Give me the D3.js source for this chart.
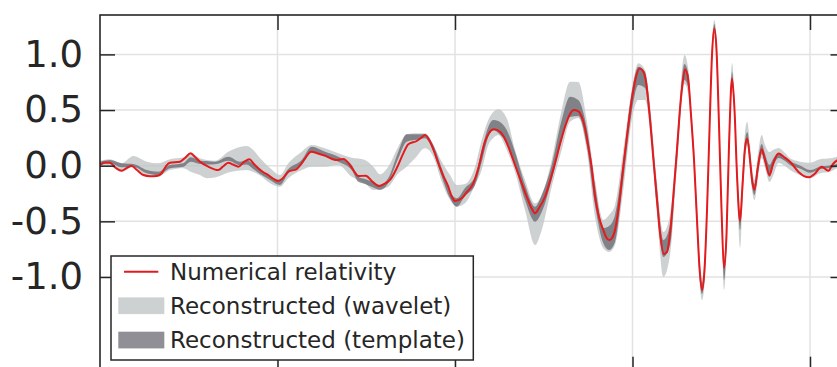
<!DOCTYPE html>
<html>
<head>
<meta charset="utf-8">
<script src="https://cdn.jsdelivr.net/npm/d3@7"></script>
<style>
  body { margin: 0; background: #fff; }
  svg { display: block; }
</style>
</head>
<body>
<svg id="chart" width="837" height="367"></svg>
<script>
// Axis ticks (time in ms, strain normalised to the peak)
const xTickValues = [0, 50, 100, 150, 200];
const yTickValues = [-1.0, -0.5, 0.0, 0.5, 1.0];
const yTickLabels = ["-1.0", "-0.5", "0.0", "0.5", "1.0"];
const legendLabels = ["Numerical relativity", "Reconstructed (wavelet)", "Reconstructed (template)"];

// Numerical relativity waveform
const nrTime = [0, 1.41, 2.82, 4.51, 6.11, 7.47, 8.93, 10.42, 12.20, 14.09, 15.97, 17.38, 18.59, 19.72, 22.54, 23.94, 25.55, 26.76, 28.17, 30.51, 33.32, 34.65, 36.14, 37.47, 38.96, 40.56, 42.06, 43.38, 44.59, 45.92, 47.41, 48.73, 50.14, 51.27, 53.04, 55.41, 56.82, 58.03, 59.44, 61.41, 63.38, 66.68, 68.54, 70.43, 71.55, 72.76, 74.85, 76.54, 78.59, 80.28, 81.69, 83.58, 85.44, 86.85, 89.21, 90.43, 91.55, 92.96, 94.09, 95.30, 96.62, 98.12, 99.02, 100.0, 101.89, 103.38, 105.16, 106.57, 108.45, 109.58, 110.99, 112.68, 113.81, 115.02, 116.91, 118.79, 120.57, 121.69, 122.54, 123.67, 125.36, 126.77, 128.17, 129.58, 130.99, 132.40, 133.52, 134.65, 135.69, 136.62, 137.55, 138.45, 139.44, 140.56, 141.78, 142.54, 143.39, 144.23, 145.08, 146.20, 147.41, 148.59, 149.78, 150.85, 151.97, 152.96, 153.81, 154.94, 155.78, 156.82, 157.75, 158.88, 159.73, 160.57, 161.41, 162.46, 163.24, 163.95, 164.79, 165.64, 166.48, 167.33, 168.17, 168.88, 169.58, 170.28, 170.99, 171.69, 172.40, 173.05, 173.67, 174.37, 175.08, 175.78, 176.48, 177.19, 178.03, 178.74, 179.44, 180.29, 180.99, 181.70, 182.34, 183.11, 183.67, 184.37, 185.21, 186.40, 187.33, 188.59, 189.58, 191.13, 192.68, 194.37, 196.70, 198.31, 199.72, 201.41, 203.30, 205.16, 206.48, 207.61, 209.87];
const nrStrain = [0.006, 0.029, 0.027, -0.021, -0.045, -0.021, -0.003, -0.039, -0.084, -0.095, -0.093, -0.068, -0.003, 0.027, 0.036, 0.069, 0.111, 0.078, 0.036, -0.009, -0.039, -0.007, 0.027, 0.011, -0.009, 0.033, 0.058, 0.015, -0.023, -0.057, -0.084, -0.115, -0.137, -0.120, -0.054, -0.030, 0.022, 0.078, 0.126, 0.110, 0.090, 0.051, 0.060, 0.006, -0.048, -0.093, -0.090, -0.137, -0.182, -0.160, -0.128, -0.023, 0.111, 0.192, 0.222, 0.249, 0.276, 0.216, 0.132, 0.022, -0.084, -0.189, -0.272, -0.317, -0.293, -0.236, -0.158, -0.023, 0.216, 0.294, 0.327, 0.305, 0.258, 0.171, 0.006, -0.158, -0.308, -0.389, -0.428, -0.380, -0.279, -0.137, 0.022, 0.195, 0.350, 0.465, 0.500, 0.491, 0.440, 0.339, 0.171, -0.003, -0.279, -0.461, -0.578, -0.641, -0.668, -0.650, -0.578, -0.353, -0.009, 0.303, 0.590, 0.779, 0.873, 0.851, 0.752, 0.411, 0.096, -0.279, -0.605, -0.793, -0.775, -0.607, -0.308, 0.111, 0.456, 0.698, 0.864, 0.788, 0.456, 0.051, -0.488, -0.919, -1.117, -0.937, -0.398, 0.321, 0.995, 1.233, 1.040, 0.366, -0.398, -0.919, -0.623, 0.186, 0.783, 0.500, -0.084, -0.497, -0.173, 0.159, 0.244, 0.051, -0.128, -0.218, -0.039, 0.147, 0.051, -0.084, 0.015, 0.110, 0.078, 0.036, -0.054, -0.093, -0.104, -0.070, -0.009, -0.045, 0.015, 0.047, 0.069];

// 90% credible bands of the two reconstructions
const bandTime = [0, 2.82, 6.11, 9.38, 13.16, 16.42, 19.72, 23.47, 25.55, 28.17, 30.05, 32.39, 36.14, 39.44, 41.33, 43.18, 45.07, 47.89, 50.71, 53.04, 56.82, 59.64, 63.38, 67.13, 70.90, 72.76, 74.65, 76.99, 78.87, 81.21, 84.03, 86.39, 88.74, 91.55, 93.89, 96.26, 98.60, 100.48, 102.82, 105.64, 107.52, 109.38, 110.79, 112.20, 114.57, 116.91, 119.72, 122.54, 124.43, 127.24, 130.06, 132.40, 134.74, 137.10, 139.44, 141.78, 143.39, 145.08, 147.41, 149.78, 151.64, 153.53, 154.94, 156.82, 158.68, 160.57, 162.46, 164.64, 165.76, 166.48, 167.33, 168.17, 168.88, 169.58, 170.28, 170.99, 171.69, 172.40, 173.05, 173.67, 174.37, 175.08, 175.78, 176.48, 177.19, 178.03, 178.74, 179.44, 180.29, 180.99, 181.70, 182.34, 183.11, 183.67, 184.37, 185.21, 186.40, 187.33, 188.59, 189.58, 191.13, 192.96, 194.37, 197.18, 200.0, 202.82, 205.64, 207.61, 209.87];
const waveletUpper = [0.045, 0.058, 0.022, 0.087, 0.036, 0.022, 0.058, 0.075, 0.117, 0.066, 0.051, 0.045, 0.126, 0.168, 0.177, 0.141, 0.069, -0.021, -0.084, 0.022, 0.126, 0.186, 0.156, 0.111, 0.072, 0.065, 0.051, -0.009, -0.077, -0.009, 0.171, 0.282, 0.291, 0.291, 0.186, 0.036, -0.084, -0.173, -0.164, -0.009, 0.231, 0.411, 0.482, 0.507, 0.426, 0.141, -0.128, -0.338, -0.263, 0.051, 0.500, 0.755, 0.752, 0.411, -0.128, -0.488, -0.443, -0.353, 0.141, 0.680, 0.920, 0.860, 0.545, -0.128, -0.596, -0.443, 0.231, 0.995, 0.860, 0.545, 0.159, -0.353, -0.802, -1.009, -0.829, -0.263, 0.456, 1.111, 1.309, 1.147, 0.500, -0.263, -0.811, -0.488, 0.321, 0.923, 0.617, 0.033, -0.398, -0.057, 0.303, 0.395, 0.186, -0.012, -0.128, 0.078, 0.276, 0.186, 0.123, 0.141, 0.159, 0.114, 0.066, 0.036, 0.027, 0.058, 0.066, 0.081, 0.096];
const waveletLower = [-0.009, -0.009, -0.054, -0.009, -0.093, -0.099, -0.039, -0.023, -0.054, -0.084, -0.113, -0.106, -0.061, -0.043, -0.039, -0.057, -0.088, -0.158, -0.189, -0.113, -0.039, -0.009, -0.009, 0.006, -0.099, -0.128, -0.158, -0.218, -0.209, -0.189, -0.068, -0.009, 0.066, 0.156, 0.081, -0.144, -0.308, -0.368, -0.338, -0.173, -0.039, 0.186, 0.249, 0.276, 0.141, -0.057, -0.398, -0.713, -0.578, -0.189, 0.141, 0.395, 0.429, 0.141, -0.458, -0.742, -0.775, -0.713, -0.218, 0.411, 0.590, 0.590, 0.321, -0.398, -1.000, -0.803, -0.039, 0.734, 0.635, 0.366, -0.057, -0.623, -1.045, -1.207, -1.063, -0.533, 0.186, 0.878, 1.147, 0.914, 0.231, -0.533, -1.117, -0.775, 0.051, 0.680, 0.384, -0.218, -0.739, -0.326, 0.051, 0.177, -0.039, -0.218, -0.308, -0.146, 0.069, -0.021, -0.146, -0.093, 0.024, -0.003, -0.039, -0.084, -0.113, -0.068, -0.054, -0.023, -0.012];
const templateUpper = [0.036, 0.051, 0.022, 0.015, -0.039, -0.054, 0.006, 0.022, 0.075, 0.045, 0.042, 0.036, 0.081, 0.036, 0.051, 0.015, -0.039, -0.099, -0.128, -0.030, 0.051, 0.171, 0.126, 0.081, 0.006, -0.099, -0.120, -0.149, -0.173, -0.111, 0.126, 0.282, 0.282, 0.282, 0.186, -0.023, -0.234, -0.293, -0.200, -0.099, 0.141, 0.348, 0.411, 0.402, 0.321, 0.123, -0.173, -0.368, -0.263, 0.006, 0.411, 0.620, 0.590, 0.339, -0.173, -0.560, -0.542, -0.443, 0.051, 0.662, 0.890, 0.842, 0.500, -0.173, -0.668, -0.533, 0.186, 0.914, 0.824, 0.500, 0.105, -0.416, -0.865, -1.054, -0.883, -0.326, 0.393, 1.058, 1.273, 1.093, 0.429, -0.326, -0.865, -0.560, 0.249, 0.842, 0.554, -0.021, -0.443, -0.111, 0.231, 0.303, 0.123, -0.066, -0.164, 0.024, 0.195, 0.105, 0.006, 0.060, 0.114, 0.078, 0.042, 0.002, -0.039, -0.009, 0.002, 0.015, 0.024];
const templateLower = [0.006, 0.022, -0.014, -0.012, -0.068, -0.084, -0.023, -0.009, 0.036, 0.015, 0.011, 0.013, 0.045, 0.006, 0.011, -0.030, -0.075, -0.128, -0.173, -0.068, 0.006, 0.120, 0.081, 0.036, -0.039, -0.144, -0.164, -0.196, -0.218, -0.155, 0.066, 0.216, 0.231, 0.246, 0.126, -0.099, -0.293, -0.368, -0.272, -0.173, 0.033, 0.258, 0.321, 0.294, 0.195, -0.003, -0.308, -0.503, -0.416, -0.128, 0.231, 0.438, 0.447, 0.186, -0.353, -0.697, -0.757, -0.686, -0.128, 0.482, 0.725, 0.698, 0.366, -0.353, -0.820, -0.713, 0.033, 0.770, 0.698, 0.411, -0.003, -0.560, -0.991, -1.153, -1.009, -0.470, 0.249, 0.932, 1.192, 0.968, 0.303, -0.470, -1.027, -0.704, 0.123, 0.734, 0.447, -0.146, -0.578, -0.254, 0.105, 0.204, 0.006, -0.182, -0.263, -0.093, 0.105, 0.015, -0.102, -0.012, 0.069, 0.042, 0.006, -0.025, -0.063, -0.032, -0.021, -0.012, -0.003];

const COLORS = {
  nr: "#e41a1c",
  wavelet: "rgba(192,198,198,0.8)",
  template: "rgba(100,100,108,0.72)",
  grid: "#e2e2e2",
  axis: "#262626"
};

const plot = { left: 100, right: 845.5, top: 15, bottom: 371.7 };
const svg = d3.select("#chart");

const x = d3.scaleLinear().domain([0, 210]).range([plot.left, plot.right]);
const y = d3.scaleLinear().domain([-1.851, 1.354]).range([plot.bottom, plot.top]);

svg.append("defs").append("clipPath").attr("id", "plot-clip")
  .append("rect")
  .attr("x", plot.left).attr("y", plot.top)
  .attr("width", plot.right - plot.left).attr("height", plot.bottom - plot.top);

// Grid
const grid = svg.append("g");
grid.selectAll("line.h").data(yTickValues).join("line")
  .attr("x1", plot.left).attr("x2", plot.right)
  .attr("y1", d => y(d)).attr("y2", d => y(d))
  .attr("stroke", COLORS.grid).attr("stroke-width", 1.5);
grid.selectAll("line.v").data(xTickValues.slice(1)).join("line")
  .attr("x1", d => x(d)).attr("x2", d => x(d))
  .attr("y1", plot.top).attr("y2", plot.bottom)
  .attr("stroke", COLORS.grid).attr("stroke-width", 1.5);

// Data
const data = svg.append("g").attr("clip-path", "url(#plot-clip)");
const band = (lo, hi) => d3.area()
  .x((d, i) => x(bandTime[i]))
  .y0((d, i) => y(lo[i]))
  .y1((d, i) => y(hi[i]))
  .curve(d3.curveMonotoneX);

data.append("path").datum(bandTime)
  .attr("d", band(waveletLower, waveletUpper))
  .attr("fill", COLORS.wavelet);
data.append("path").datum(bandTime)
  .attr("d", band(templateLower, templateUpper))
  .attr("fill", COLORS.template);

const nrLine = d3.line()
  .x(d => x(d[0])).y(d => y(d[1]))
  .curve(d3.curveMonotoneX);
data.append("path").datum(d3.zip(nrTime, nrStrain))
  .attr("d", nrLine)
  .attr("fill", "none").attr("stroke", COLORS.nr)
  .attr("stroke-width", 2).attr("stroke-linejoin", "round");

// Axes: inward ticks on all four sides, labels on the left only
const tickLen = 15;
const axisLeft = d3.axisLeft(y).tickValues(yTickValues)
  .tickSize(-tickLen).tickPadding(17)
  .tickFormat((d, i) => yTickLabels[i]);
const gL = svg.append("g").attr("transform", `translate(${plot.left},0)`).call(axisLeft);
gL.select(".domain").remove();
gL.selectAll(".tick line").attr("stroke", COLORS.axis).attr("stroke-width", 1.5);
gL.selectAll(".tick text")
  .attr("fill", COLORS.axis)
  .style("font-family", "'DejaVu Sans', sans-serif")
  .style("font-size", "37px");

const gR = svg.append("g").attr("transform", `translate(${plot.right},0)`)
  .call(d3.axisRight(y).tickValues(yTickValues).tickSize(-tickLen).tickFormat(""));
const gT = svg.append("g").attr("transform", `translate(0,${plot.top})`)
  .call(d3.axisTop(x).tickValues(xTickValues.slice(1)).tickSize(-tickLen).tickFormat(""));
const gB = svg.append("g").attr("transform", `translate(0,${plot.bottom})`)
  .call(d3.axisBottom(x).tickValues(xTickValues.slice(1)).tickSize(-tickLen).tickFormat(""));
[gR, gT, gB].forEach(g => {
  g.select(".domain").remove();
  g.selectAll(".tick line").attr("stroke", COLORS.axis).attr("stroke-width", 1.5);
});

// Frame
svg.append("rect")
  .attr("x", plot.left).attr("y", plot.top)
  .attr("width", plot.right - plot.left).attr("height", plot.bottom - plot.top)
  .attr("fill", "none").attr("stroke", COLORS.axis).attr("stroke-width", 1.6);

// Legend
const legend = svg.append("g").attr("transform", "translate(111,256)");
legend.append("rect")
  .attr("width", 362.3).attr("height", 104)
  .attr("fill", "#fff").attr("stroke", COLORS.axis).attr("stroke-width", 1.5);
const rowY = [15.7, 49.7, 84];
legend.append("line")
  .attr("x1", 13).attr("x2", 47.3).attr("y1", rowY[0]).attr("y2", rowY[0])
  .attr("stroke", COLORS.nr).attr("stroke-width", 2);
legend.append("rect").attr("x", 7.3).attr("y", rowY[1] - 8.3)
  .attr("width", 46).attr("height", 16.7).attr("fill", COLORS.wavelet);
legend.append("rect").attr("x", 7.3).attr("y", rowY[2] - 8.3)
  .attr("width", 46).attr("height", 16.7).attr("fill", COLORS.template);
legend.selectAll("text").data(legendLabels).join("text")
  .attr("x", 59).attr("y", (d, i) => rowY[i] + 8.3)
  .attr("fill", COLORS.axis)
  .style("font-family", "'DejaVu Sans', sans-serif")
  .style("font-size", "23px")
  .text(d => d);
</script>
</body>
</html>
